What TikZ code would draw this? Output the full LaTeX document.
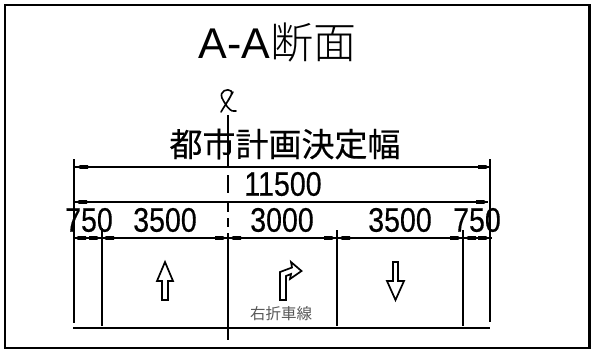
\documentclass[tikz,border=0pt]{standalone}
\usepackage{fontspec}
\setmainfont{Liberation Sans}[FakeBold=0.4]
\newfontfamily\cjk{Noto Sans CJK JP}[FakeBold=0.3]
\newfontfamily\cjkplain{Noto Sans CJK JP}
\newfontfamily\cjklight{Noto Sans CJK JP Light}
\newfontfamily\titlefont{Liberation Sans}
\tikzset{x=1pt,y=-1pt,
 line/.style={line width=1.9pt,black},
 tip/.style={fill=black,draw=none},
 num/.style={inner sep=0pt,xscale=.84,font=\fontsize{34}{34}\selectfont},
}
\begin{document}
\begin{tikzpicture}
\useasboundingbox (0,0) rectangle (591,350);
\fill[white] (0,0) rectangle (591,350);
\draw[line width=2.8pt] (5,5) -- (589.5,5) -- (589.5,348) -- (5,348) -- cycle;
\node[inner sep=0pt,font=\fontsize{43}{43}\selectfont] (title) at (277.5,43) {\titlefont A-A{\cjklight 断面}};
\node[inner sep=0pt,font=\cjk\fontsize{33}{33}\selectfont] (width) at (285,144) {都市計画決定幅};
\node[num] (total) at (283,184) {11500};
\node[num] (a) at (89,220) {750};
\node[num] (b) at (165,220) {3500};
\node[num] (c) at (282,220) {3000};
\node[num] (d) at (400,220) {3500};
\node[num] (e) at (477,220) {750};
\node[inner sep=0pt,text=black!65,font=\cjkplain\fontsize{15.5}{15.5}\selectfont] (turn) at (281,314) {右折車線};
% coordinates
\coordinate (L) at (74,159); \coordinate (LB) at (74,323);
\coordinate (R) at (490,159); \coordinate (RB) at (490,322);
% verticals
\draw[line] (L) -- (LB);
\draw[line] (R) -- (RB);
\draw[line] (228,115) -- (228,168) (228,175) -- (228,193) (228,201) -- (228,212) (228,218) -- (228,227) (228,233) -- (228,340);
\draw[line] (102,228) -- (102,326);
\draw[line] (337,230) -- (337,326);
\draw[line] (463,230) -- (463,326);
% dim lines
\draw[line] (74,167) -- (490,167);
\draw[line] (74,202) -- (488,202);
\draw[line] (73,238) -- (492,238);
\draw[line] (73,328) -- (490,328);
% arrowheads
\foreach \x/\y/\d in {80/167/1,486/167/-1,79/202/1,484/202/-1,78/238/1,97/238/-1,106/238/1,223/238/-1,233/238/1,332/238/-1,342/238/1,458/238/-1,468/238/1,486/238/-1}
 \fill[tip] (\x,\y-1.8) -- ++(8*\d,0) -- (\x+8*\d,\y+1.8) -- (\x,\y+1.8) -- ++(-3*\d,-1.8) -- cycle;
% centre line symbol
\draw[line width=1.6pt,line cap=round] (236,111) .. controls (231,113) and (226,106) .. (222,98) .. controls (219,91) and (228,88) .. (231,91) .. controls (234,94) and (226,103) .. (221,112) (226,104) -- (233,92);
% lane arrows
\draw[line,line width=1.7pt,line join=miter] (165,262) -- (157,281) -- (162,281) -- (162,300) -- (168,300) -- (168,281) -- (173,281) -- cycle;
\draw[line,line width=1.7pt,line join=miter] (395.5,300) -- (387,281) -- (393,281) -- (393,262) -- (398,262) -- (398,281) -- (404,281) -- cycle;
\draw[line,line width=1.7pt,line join=miter] (280,300) -- (280,272) -- (292,267.5) -- (291,262) -- (301.5,271) -- (290,279) -- (291,274) -- (286,276) -- (286,300) -- cycle;
\end{tikzpicture}
\end{document}
